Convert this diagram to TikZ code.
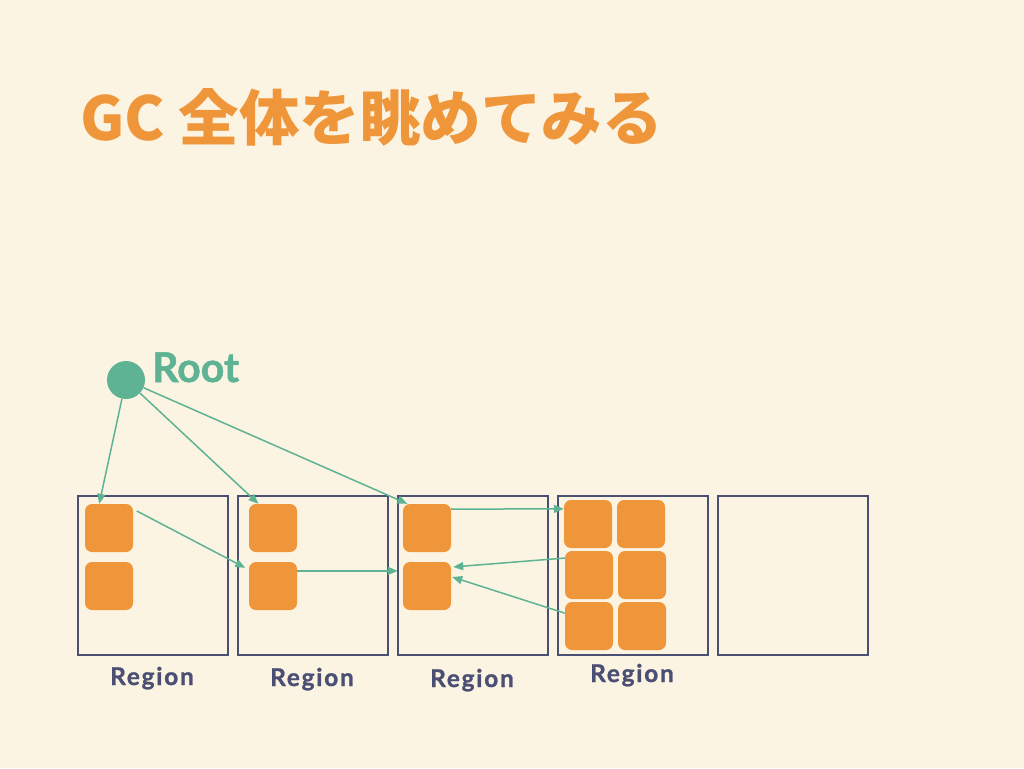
\documentclass[tikz,border=0pt]{standalone}
\usepackage{fontspec}
\setmainfont{Lato}[BoldFeatures={FakeBold=1.2}]
\newfontfamily\jpfont{Noto Sans CJK JP}
\newfontfamily\regionfont{Lato}[LetterSpace=7,BoldFeatures={FakeBold=1}]
\usetikzlibrary{arrows.meta}
\definecolor{bgcream}{HTML}{FCF4E3}
\definecolor{gcorange}{HTML}{F0963A}
\definecolor{rootgreen}{HTML}{5DB393}
\definecolor{regionblue}{HTML}{4A4F73}
\tikzset{
  region/.style={draw=regionblue,line width=2pt,minimum width=150pt,minimum height=159pt,inner sep=0},
  obj/.style={fill=gcorange,rounded corners=7pt,minimum size=48pt,inner sep=0},
  ref/.style={draw=rootgreen,line width=1.5pt,-{Triangle[length=10pt,width=8pt]}},
  rlabel/.style={text=regionblue,font=\regionfont\bfseries\fontsize{24.5}{24.5}\selectfont,anchor=base,inner sep=0},
}
\begin{document}
\begin{tikzpicture}[x=1pt,y=-1pt]
\fill[bgcream] (0,0) rectangle (1024,768);
\useasboundingbox (0,0) rectangle (1024,768);

\node[anchor=base west,inner sep=0,text=gcorange,font=\jpfont\bfseries\fontsize{60.5}{60.5}\selectfont] (title) at (80,140) {GC 全体を眺めてみる};

% root set
\node[circle,fill=rootgreen,minimum size=38pt,inner sep=0] (root) at (126,380) {};
\node[anchor=base west,inner sep=0,text=rootgreen,font=\bfseries\fontsize{41}{41}\selectfont] (rootlabel) at (152,382) {Root};

% regions
\node[region] (r1) at (153,575.5) {};
\node[region] (r2) at (313,575.5) {};
\node[region] (r3) at (473,575.5) {};
\node[region] (r4) at (633,575.5) {};
\node[region] (r5) at (793,575.5) {};
\node[rlabel] (l1) at (152,685) {Region};
\node[rlabel] (l2) at (312,686) {Region};
\node[rlabel] (l3) at (472,687) {Region};
\node[rlabel] (l4) at (632,682) {Region};

% objects
\node[obj] (o11) at (109,528) {};
\node[obj] (o12) at (109,586) {};
\node[obj] (o21) at (273,528) {};
\node[obj] (o22) at (273,586) {};
\node[obj] (o31) at (427,528) {};
\node[obj] (o32) at (427,586) {};
\node[obj] (o41) at (588,524) {};
\node[obj] (o42) at (641,524) {};
\node[obj] (o43) at (589,575) {};
\node[obj] (o44) at (642,575) {};
\node[obj] (o45) at (589,626) {};
\node[obj] (o46) at (642,626) {};

% references
\draw[ref] (root) -- (o11.112);
\draw[ref] (root) -- (o21.121);
\draw[ref] (root) -- (o31.129);
\draw[ref,shorten <=4pt,shorten >=4pt] (o11.38) -- (o22.146);
\draw[ref,shorten >=5pt] (o22.32) -- (o32.148);
\draw[ref] (o31.38) -- (o41.148);
\draw[ref,shorten >=2pt] (o43.145) -- (o32.38);
\draw[ref,shorten >=1pt] (o45.152) -- (o32.21);
\end{tikzpicture}
\end{document}
